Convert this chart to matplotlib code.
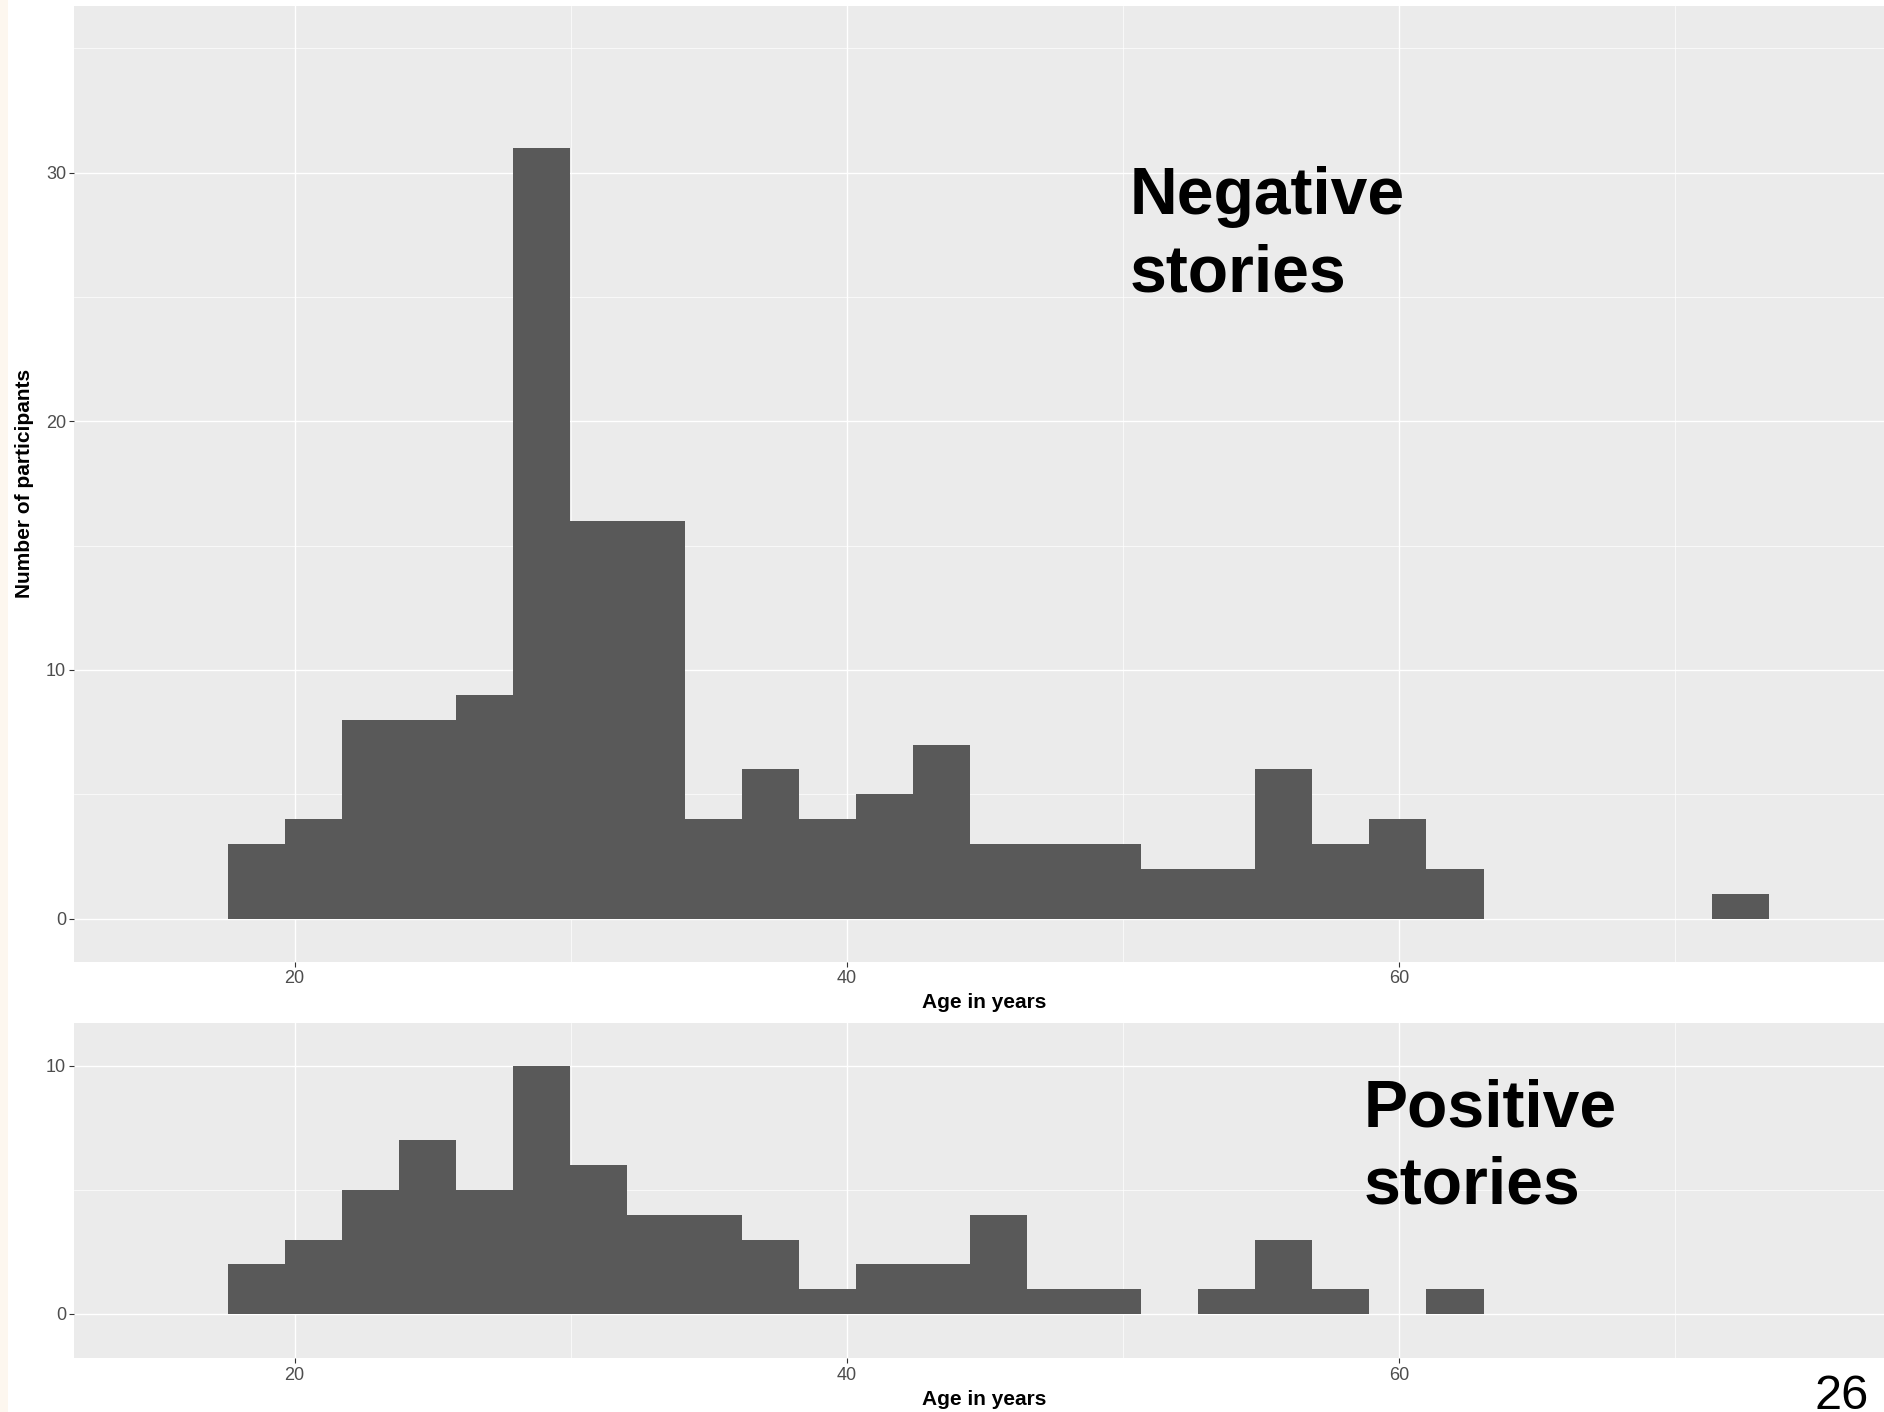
import matplotlib
matplotlib.use("Agg")
import matplotlib.pyplot as plt
import numpy as np
from matplotlib.patches import Rectangle

# Helvetica-like font, fall back to DejaVu
plt.rcParams["font.family"] = ["Liberation Sans", "DejaVu Sans"]

# histogram binning (age in years)
bin_start = 17.59
bin_width = 2.067

# number of participants per age bin
negative_counts = [3, 4, 8, 8, 9, 31, 16, 16, 4, 6, 4, 5, 7, 3, 3, 3, 2, 2, 6, 3, 4, 2, 0, 0, 0, 0, 1]
positive_counts = [2, 3, 5, 7, 5, 10, 6, 4, 4, 3, 1, 2, 2, 4, 1, 1, 0, 1, 3, 1, 0, 1, 0, 0, 0, 0, 0]

x_ticks = [20, 40, 60]
x_minor = [30, 50, 70]
neg_y_ticks = [0, 10, 20, 30]
neg_y_minor = [5, 15, 25, 35]
pos_y_ticks = [0, 10]
pos_y_minor = [5]

bin_left = bin_start + bin_width * np.arange(len(negative_counts))

fig = plt.figure(figsize=(18.84, 14.12), dpi=100)

# thin cream strip on the left border of the slide
fig.patches.append(Rectangle((0, 0), 7.5 / 1884, 1, transform=fig.transFigure,
                             facecolor="#FDF7EF", edgecolor="none", zorder=0))


def style_panel(ax, yticks, yminor, ylim):
    ax.set_facecolor("#EBEBEB")
    ax.set_xlim(12.03, 77.57)
    ax.set_ylim(*ylim)
    ax.set_xticks(x_ticks)
    ax.set_xticks(x_minor, minor=True)
    ax.set_yticks(yticks)
    ax.set_yticks(yminor, minor=True)
    ax.grid(which="major", color="white", linewidth=1.0)
    ax.grid(which="minor", color="white", linewidth=0.5)
    ax.set_axisbelow(True)
    for s in ax.spines.values():
        s.set_visible(False)
    ax.tick_params(which="major", length=3.6, width=0.8, color="#333333",
                   labelcolor="#4D4D4D", labelsize=13, pad=2.5)
    ax.tick_params(which="minor", length=0)
    ax.set_xlabel("Age in years", fontsize=15, fontweight="bold", labelpad=4.5)
    ax.xaxis.label.set_x(0.503)


# negative stories
ax1 = fig.add_axes([0.03954, 0.3189, 0.96046, 0.6769])
ax1.bar(bin_left, negative_counts, width=bin_width, align="edge", color="#595959", linewidth=0)
style_panel(ax1, neg_y_ticks, neg_y_minor, (-1.73, 36.7))
ax1.set_ylabel("Number of participants", fontsize=15, fontweight="bold", labelpad=8.5)
# baseline of the last line is anchored
ax1.text(50.26, 25.21, "Negative\nstories", fontsize=47.5, fontweight="bold",
         ha="left", va="baseline", linespacing=1.32)

# positive stories
ax2 = fig.add_axes([0.03954, 0.03803, 0.96046, 0.2378])
ax2.bar(bin_left, positive_counts, width=bin_width, align="edge", color="#595959", linewidth=0)
style_panel(ax2, pos_y_ticks, pos_y_minor, (-1.79, 11.75))
ax2.text(58.72, 4.44, "Positive\nstories", fontsize=47.5, fontweight="bold",
         ha="left", va="baseline", linespacing=1.32)

# slide number
fig.text(1869 / 1884, 1 - 1409 / 1412, "26", fontsize=35, ha="right", va="baseline")

fig.savefig("out.png", dpi=100)
